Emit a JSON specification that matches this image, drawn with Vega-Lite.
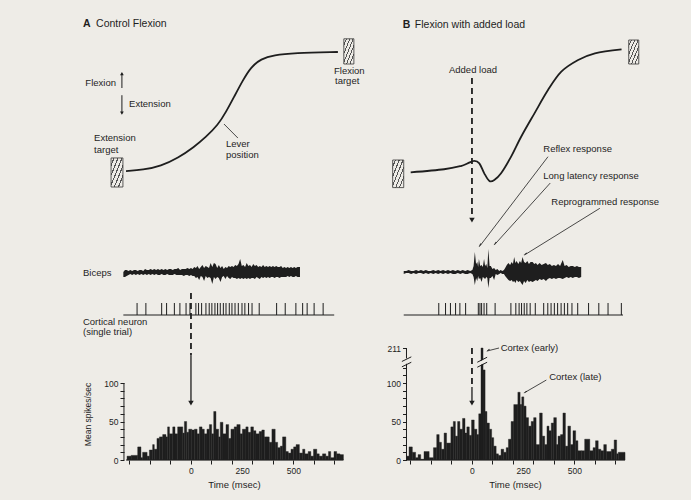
{
"$schema": "https://vega.github.io/schema/vega-lite/v6.json",
"background": "#eeece7",
"padding": {"left": 82, "top": 14, "right": 40, "bottom": 14},
"config": {"view": {"stroke": null}, "font": "Liberation Sans", "text": {"font": "Liberation Sans", "color": "#1e1e1e", "fontSize": 10}, "axis": {"labelFont": "Liberation Sans", "titleFont": "Liberation Sans", "grid": false}},
"data": {"values": [{}]},
"datasets": {
"leverA": [{"t":-317,"v":0.8},{"t":-234,"v":1.7},{"t":-146,"v":5},{"t":-63,"v":11.7},{"t":15,"v":20.8},{"t":73,"v":29.2},{"t":132,"v":39.2},{"t":171,"v":50},{"t":210,"v":62.5},{"t":254,"v":76.7},{"t":293,"v":87.5},{"t":341,"v":94.2},{"t":405,"v":97.5},{"t":502,"v":99.2},{"t":717,"v":100}],
"leverB": [{"t":-299,"v":-0.3},{"t":-136,"v":2.3},{"t":-54,"v":5},{"t":-21,"v":7.2},{"t":11,"v":9.2},{"t":36,"v":7.2},{"t":60,"v":-1.1},{"t":85,"v":-7.5},{"t":109,"v":-6.7},{"t":142,"v":-1.1},{"t":191,"v":12.8},{"t":240,"v":29.4},{"t":305,"v":48.9},{"t":371,"v":68.3},{"t":436,"v":83.6},{"t":518,"v":93.3},{"t":600,"v":98.9},{"t":730,"v":102.2}],
"emgA": [{"t":-330,"hi":0,"lo":-5},{"t":-322,"hi":2,"lo":-5},{"t":-314,"hi":2,"lo":-4},{"t":-305,"hi":1,"lo":-3},{"t":-296,"hi":2,"lo":-2},{"t":-287,"hi":1,"lo":-3},{"t":-278,"hi":2,"lo":-2},{"t":-269,"hi":2,"lo":-3},{"t":-260,"hi":1,"lo":-2},{"t":-251,"hi":2,"lo":-3},{"t":-242,"hi":2,"lo":-2},{"t":-233,"hi":1,"lo":-3},{"t":-224,"hi":3,"lo":-2},{"t":-215,"hi":2,"lo":-3},{"t":-206,"hi":2,"lo":-2},{"t":-197,"hi":3,"lo":-3},{"t":-188,"hi":2,"lo":-2},{"t":-179,"hi":3,"lo":-3},{"t":-170,"hi":2,"lo":-2},{"t":-161,"hi":3,"lo":-3},{"t":-152,"hi":2,"lo":-3},{"t":-143,"hi":3,"lo":-2},{"t":-134,"hi":2,"lo":-3},{"t":-125,"hi":3,"lo":-3},{"t":-116,"hi":2,"lo":-2},{"t":-107,"hi":3,"lo":-3},{"t":-98,"hi":3,"lo":-3},{"t":-89,"hi":2,"lo":-3},{"t":-80,"hi":3,"lo":-2},{"t":-71,"hi":3,"lo":-3},{"t":-62,"hi":4,"lo":-3},{"t":-53,"hi":2,"lo":-3},{"t":-44,"hi":3,"lo":-3},{"t":-35,"hi":3,"lo":-4},{"t":-26,"hi":3,"lo":-3},{"t":-17,"hi":4,"lo":-3},{"t":-8,"hi":3,"lo":-4},{"t":0,"hi":4,"lo":-3},{"t":8,"hi":3,"lo":-4},{"t":16,"hi":5,"lo":-4},{"t":24,"hi":4,"lo":-6},{"t":32,"hi":6,"lo":-5},{"t":40,"hi":3,"lo":-8},{"t":48,"hi":5,"lo":-4},{"t":56,"hi":7,"lo":-5},{"t":64,"hi":4,"lo":-9},{"t":72,"hi":6,"lo":-4},{"t":80,"hi":5,"lo":-6},{"t":88,"hi":4,"lo":-5},{"t":96,"hi":9,"lo":-6},{"t":104,"hi":5,"lo":-12},{"t":112,"hi":9,"lo":-5},{"t":120,"hi":8,"lo":-7},{"t":128,"hi":4,"lo":-5},{"t":136,"hi":7,"lo":-6},{"t":144,"hi":4,"lo":-10},{"t":152,"hi":6,"lo":-5},{"t":160,"hi":3,"lo":-4},{"t":168,"hi":5,"lo":-7},{"t":176,"hi":4,"lo":-4},{"t":184,"hi":6,"lo":-6},{"t":192,"hi":5,"lo":-7},{"t":200,"hi":6,"lo":-5},{"t":208,"hi":5,"lo":-6},{"t":216,"hi":7,"lo":-6},{"t":224,"hi":6,"lo":-7},{"t":232,"hi":8,"lo":-6},{"t":240,"hi":13,"lo":-7},{"t":248,"hi":6,"lo":-6},{"t":256,"hi":7,"lo":-7},{"t":264,"hi":5,"lo":-6},{"t":272,"hi":9,"lo":-7},{"t":280,"hi":6,"lo":-6},{"t":288,"hi":7,"lo":-7},{"t":296,"hi":5,"lo":-6},{"t":304,"hi":8,"lo":-6},{"t":312,"hi":6,"lo":-7},{"t":320,"hi":7,"lo":-5},{"t":328,"hi":5,"lo":-6},{"t":336,"hi":6,"lo":-7},{"t":344,"hi":5,"lo":-5},{"t":352,"hi":7,"lo":-6},{"t":360,"hi":5,"lo":-5},{"t":368,"hi":6,"lo":-6},{"t":376,"hi":5,"lo":-5},{"t":384,"hi":6,"lo":-6},{"t":392,"hi":5,"lo":-5},{"t":400,"hi":6,"lo":-5},{"t":408,"hi":5,"lo":-6},{"t":416,"hi":6,"lo":-5},{"t":424,"hi":5,"lo":-5},{"t":432,"hi":5,"lo":-6},{"t":440,"hi":6,"lo":-5},{"t":448,"hi":4,"lo":-5},{"t":456,"hi":5,"lo":-5},{"t":464,"hi":4,"lo":-5},{"t":472,"hi":5,"lo":-4},{"t":480,"hi":4,"lo":-5},{"t":488,"hi":5,"lo":-4},{"t":496,"hi":4,"lo":-5},{"t":504,"hi":5,"lo":-5},{"t":512,"hi":4,"lo":-4},{"t":520,"hi":5,"lo":-5},{"t":532,"hi":5,"lo":-5}],
"emgB": [{"t":-333,"hi":1,"lo":-2},{"t":-321,"hi":1,"lo":-1},{"t":-309,"hi":2,"lo":-1},{"t":-297,"hi":1,"lo":-2},{"t":-285,"hi":1,"lo":-1},{"t":-273,"hi":2,"lo":-2},{"t":-261,"hi":1,"lo":-1},{"t":-249,"hi":2,"lo":-1},{"t":-237,"hi":1,"lo":-2},{"t":-225,"hi":2,"lo":-1},{"t":-213,"hi":1,"lo":-2},{"t":-201,"hi":1,"lo":-1},{"t":-189,"hi":2,"lo":-2},{"t":-177,"hi":1,"lo":-1},{"t":-165,"hi":2,"lo":-2},{"t":-153,"hi":1,"lo":-1},{"t":-141,"hi":2,"lo":-2},{"t":-129,"hi":1,"lo":-1},{"t":-117,"hi":2,"lo":-2},{"t":-105,"hi":1,"lo":-1},{"t":-93,"hi":2,"lo":-2},{"t":-81,"hi":1,"lo":-2},{"t":-69,"hi":2,"lo":-1},{"t":-57,"hi":1,"lo":-2},{"t":-45,"hi":2,"lo":-1},{"t":-33,"hi":1,"lo":-2},{"t":-21,"hi":2,"lo":-2},{"t":-9,"hi":1,"lo":-1},{"t":2,"hi":2,"lo":-2},{"t":8,"hi":6,"lo":-5},{"t":14,"hi":20,"lo":-13},{"t":20,"hi":8,"lo":-6},{"t":26,"hi":10,"lo":-9},{"t":30,"hi":5,"lo":-4},{"t":34,"hi":13,"lo":-7},{"t":40,"hi":6,"lo":-6},{"t":47,"hi":7,"lo":-10},{"t":53,"hi":5,"lo":-5},{"t":59,"hi":13,"lo":-6},{"t":64,"hi":6,"lo":-7},{"t":70,"hi":8,"lo":-5},{"t":75,"hi":4,"lo":-6},{"t":80,"hi":23,"lo":-16},{"t":86,"hi":6,"lo":-6},{"t":92,"hi":6,"lo":-6},{"t":100,"hi":3,"lo":-4},{"t":108,"hi":4,"lo":-8},{"t":116,"hi":2,"lo":-2},{"t":124,"hi":3,"lo":-3},{"t":133,"hi":1,"lo":-2},{"t":140,"hi":2,"lo":-1},{"t":148,"hi":1,"lo":-2},{"t":156,"hi":2,"lo":-2},{"t":162,"hi":4,"lo":-4},{"t":170,"hi":7,"lo":-6},{"t":178,"hi":9,"lo":-8},{"t":186,"hi":7,"lo":-9},{"t":194,"hi":10,"lo":-8},{"t":200,"hi":8,"lo":-10},{"t":206,"hi":15,"lo":-9},{"t":212,"hi":9,"lo":-11},{"t":218,"hi":11,"lo":-8},{"t":226,"hi":8,"lo":-10},{"t":234,"hi":11,"lo":-9},{"t":240,"hi":9,"lo":-11},{"t":247,"hi":15,"lo":-13},{"t":254,"hi":10,"lo":-9},{"t":262,"hi":9,"lo":-11},{"t":270,"hi":11,"lo":-8},{"t":278,"hi":8,"lo":-10},{"t":286,"hi":10,"lo":-9},{"t":296,"hi":10,"lo":-10},{"t":304,"hi":8,"lo":-9},{"t":312,"hi":9,"lo":-8},{"t":320,"hi":7,"lo":-9},{"t":330,"hi":9,"lo":-7},{"t":340,"hi":7,"lo":-8},{"t":350,"hi":8,"lo":-7},{"t":361,"hi":9,"lo":-9},{"t":370,"hi":7,"lo":-7},{"t":380,"hi":8,"lo":-6},{"t":390,"hi":6,"lo":-7},{"t":400,"hi":7,"lo":-6},{"t":410,"hi":6,"lo":-7},{"t":420,"hi":8,"lo":-6},{"t":430,"hi":6,"lo":-6},{"t":443,"hi":12,"lo":-7},{"t":452,"hi":6,"lo":-6},{"t":462,"hi":7,"lo":-5},{"t":472,"hi":5,"lo":-6},{"t":482,"hi":6,"lo":-5},{"t":492,"hi":6,"lo":-6},{"t":502,"hi":5,"lo":-5},{"t":512,"hi":6,"lo":-5},{"t":522,"hi":5,"lo":-6},{"t":533,"hi":5,"lo":-5}],
"rasterA": [{"t":-263},{"t":-220},{"t":-143},{"t":-119},{"t":-81},{"t":-54},{"t":-24},{"t":-5},{"t":24},{"t":37},{"t":52},{"t":73},{"t":89},{"t":102},{"t":117},{"t":130},{"t":143},{"t":158},{"t":171},{"t":187},{"t":200},{"t":215},{"t":231},{"t":249},{"t":263},{"t":281},{"t":298},{"t":333},{"t":418},{"t":460},{"t":512},{"t":545},{"t":567},{"t":601},{"t":645}],
"rasterB": [{"t":-162},{"t":-129},{"t":-105},{"t":-80},{"t":-59},{"t":-31},{"t":31},{"t":39},{"t":47},{"t":59},{"t":72},{"t":113},{"t":190},{"t":214},{"t":230},{"t":242},{"t":255},{"t":268},{"t":284},{"t":309},{"t":350},{"t":370},{"t":386},{"t":402},{"t":418},{"t":435},{"t":451},{"t":467},{"t":488},{"t":516},{"t":569},{"t":619},{"t":664},{"t":729}],
"histA": [{"t0":-312,"t1":-292,"v":5},{"t0":-292,"t1":-260,"v":6},{"t0":-260,"t1":-244,"v":17},{"t0":-244,"t1":-236,"v":3},{"t0":-236,"t1":-214,"v":10},{"t0":-214,"t1":-203,"v":5},{"t0":-203,"t1":-187,"v":13},{"t0":-187,"t1":-179,"v":20},{"t0":-179,"t1":-166,"v":14},{"t0":-166,"t1":-154,"v":28},{"t0":-154,"t1":-138,"v":30},{"t0":-138,"t1":-122,"v":33},{"t0":-122,"t1":-114,"v":30},{"t0":-114,"t1":-105,"v":43},{"t0":-105,"t1":-89,"v":34},{"t0":-89,"t1":-78,"v":43},{"t0":-78,"t1":-65,"v":34},{"t0":-65,"t1":-40,"v":43},{"t0":-40,"t1":-32,"v":35},{"t0":-32,"t1":-21,"v":50},{"t0":-21,"t1":-11,"v":36},{"t0":-11,"t1":4,"v":40},{"t0":4,"t1":17,"v":39},{"t0":17,"t1":30,"v":40},{"t0":30,"t1":41,"v":34},{"t0":41,"t1":54,"v":43},{"t0":54,"t1":65,"v":40},{"t0":65,"t1":78,"v":34},{"t0":78,"t1":90,"v":40},{"t0":90,"t1":101,"v":46},{"t0":101,"t1":111,"v":34},{"t0":111,"t1":122,"v":63},{"t0":122,"t1":135,"v":40},{"t0":135,"t1":143,"v":30},{"t0":143,"t1":156,"v":49},{"t0":156,"t1":171,"v":34},{"t0":171,"t1":184,"v":46},{"t0":184,"t1":195,"v":28},{"t0":195,"t1":211,"v":40},{"t0":211,"t1":224,"v":43},{"t0":224,"t1":240,"v":46},{"t0":240,"t1":251,"v":34},{"t0":251,"t1":268,"v":40},{"t0":268,"t1":279,"v":43},{"t0":279,"t1":292,"v":36},{"t0":292,"t1":305,"v":43},{"t0":305,"t1":317,"v":38},{"t0":317,"t1":333,"v":34},{"t0":333,"t1":346,"v":37},{"t0":346,"t1":358,"v":39},{"t0":358,"t1":371,"v":30},{"t0":371,"t1":382,"v":30},{"t0":382,"t1":395,"v":23},{"t0":395,"t1":411,"v":40},{"t0":411,"t1":423,"v":23},{"t0":423,"t1":436,"v":16},{"t0":436,"t1":447,"v":18},{"t0":447,"t1":463,"v":30},{"t0":463,"t1":475,"v":11},{"t0":475,"t1":488,"v":9},{"t0":488,"t1":501,"v":14},{"t0":501,"t1":513,"v":17},{"t0":513,"t1":529,"v":20},{"t0":529,"t1":545,"v":9},{"t0":545,"t1":556,"v":14},{"t0":556,"t1":572,"v":8},{"t0":572,"t1":585,"v":11},{"t0":585,"t1":598,"v":5},{"t0":598,"t1":614,"v":14},{"t0":614,"t1":626,"v":8},{"t0":626,"t1":642,"v":5},{"t0":642,"t1":658,"v":8},{"t0":658,"t1":671,"v":5},{"t0":671,"t1":682,"v":11},{"t0":682,"t1":698,"v":3},{"t0":698,"t1":711,"v":11},{"t0":711,"t1":727,"v":8},{"t0":727,"t1":744,"v":7}],
"histB": [{"t0":-318,"t1":-307,"v":5},{"t0":-307,"t1":-291,"v":17},{"t0":-291,"t1":-275,"v":10},{"t0":-275,"t1":-263,"v":3},{"t0":-263,"t1":-250,"v":7},{"t0":-250,"t1":-234,"v":1},{"t0":-234,"t1":-209,"v":11},{"t0":-209,"t1":-188,"v":3},{"t0":-188,"t1":-172,"v":16},{"t0":-172,"t1":-160,"v":33},{"t0":-160,"t1":-149,"v":23},{"t0":-149,"t1":-136,"v":14},{"t0":-136,"t1":-124,"v":35},{"t0":-124,"t1":-103,"v":22},{"t0":-103,"t1":-91,"v":43},{"t0":-91,"t1":-81,"v":50},{"t0":-81,"t1":-70,"v":31},{"t0":-70,"t1":-59,"v":50},{"t0":-59,"t1":-46,"v":40},{"t0":-46,"t1":-34,"v":54},{"t0":-34,"t1":-25,"v":35},{"t0":-25,"t1":-13,"v":43},{"t0":-13,"t1":-2,"v":32},{"t0":-2,"t1":11,"v":52},{"t0":11,"t1":24,"v":40},{"t0":24,"t1":33,"v":33},{"t0":33,"t1":44,"v":60},{"t0":44,"t1":54,"v":211},{"t0":54,"t1":64,"v":117},{"t0":64,"t1":73,"v":63},{"t0":73,"t1":85,"v":48},{"t0":85,"t1":96,"v":40},{"t0":96,"t1":106,"v":29},{"t0":106,"t1":118,"v":18},{"t0":118,"t1":129,"v":8},{"t0":129,"t1":142,"v":6},{"t0":142,"t1":155,"v":14},{"t0":155,"t1":167,"v":10},{"t0":167,"t1":178,"v":16},{"t0":178,"t1":191,"v":27},{"t0":191,"t1":204,"v":50},{"t0":204,"t1":224,"v":72},{"t0":224,"t1":235,"v":88},{"t0":235,"t1":243,"v":72},{"t0":243,"t1":253,"v":82},{"t0":253,"t1":264,"v":70},{"t0":264,"t1":276,"v":55},{"t0":276,"t1":289,"v":44},{"t0":289,"t1":301,"v":50},{"t0":301,"t1":313,"v":55},{"t0":313,"t1":330,"v":20},{"t0":330,"t1":343,"v":61},{"t0":343,"t1":355,"v":31},{"t0":355,"t1":366,"v":20},{"t0":366,"t1":376,"v":44},{"t0":376,"t1":387,"v":38},{"t0":387,"t1":399,"v":48},{"t0":399,"t1":412,"v":55},{"t0":412,"t1":420,"v":20},{"t0":420,"t1":432,"v":31},{"t0":432,"t1":444,"v":33},{"t0":444,"t1":456,"v":61},{"t0":456,"t1":468,"v":18},{"t0":468,"t1":481,"v":44},{"t0":481,"t1":493,"v":20},{"t0":493,"t1":506,"v":38},{"t0":506,"t1":517,"v":25},{"t0":517,"t1":534,"v":12},{"t0":534,"t1":550,"v":12},{"t0":550,"t1":575,"v":27},{"t0":575,"t1":591,"v":12},{"t0":591,"t1":603,"v":16},{"t0":603,"t1":616,"v":25},{"t0":616,"t1":629,"v":14},{"t0":629,"t1":643,"v":12},{"t0":643,"t1":656,"v":20},{"t0":656,"t1":680,"v":11},{"t0":680,"t1":694,"v":14},{"t0":694,"t1":706,"v":26},{"t0":706,"t1":714,"v":8},{"t0":714,"t1":747,"v":10}]
},
"spacing": 21,
"hconcat": [
{"bounds": "flush", "spacing": 0, "vconcat": [
 {"width": 250, "height": 216, "layer": [
  {"data": {"name": "leverA"}, "mark": {"type": "line", "interpolate": "basis", "color": "#1e1e1e", "strokeWidth": 1.8},
   "encoding": {"x": {"field": "t", "type": "quantitative", "scale": {"domain": [-400, 820], "nice": false, "zero": false}, "axis": null},
                "y": {"field": "v", "type": "quantitative", "scale": {"domain": [-48.33, 131.67], "nice": false, "zero": false}, "axis": null}}},
  {"mark": {"type": "rect", "stroke": "#333", "strokeWidth": 0.8, "fill": {"gradient": "linear", "x1": 0, "y1": 0, "x2": 1, "y2": 1, "stops": [{"offset": 0, "color": "#eeece7"}, {"offset": 0.1, "color": "#eeece7"}, {"offset": 0.1, "color": "#555"}, {"offset": 0.15, "color": "#555"}, {"offset": 0.15, "color": "#eeece7"}, {"offset": 0.27, "color": "#eeece7"}, {"offset": 0.27, "color": "#555"}, {"offset": 0.32, "color": "#555"}, {"offset": 0.32, "color": "#eeece7"}, {"offset": 0.44, "color": "#eeece7"}, {"offset": 0.44, "color": "#555"}, {"offset": 0.49, "color": "#555"}, {"offset": 0.49, "color": "#eeece7"}, {"offset": 0.61, "color": "#eeece7"}, {"offset": 0.61, "color": "#555"}, {"offset": 0.66, "color": "#555"}, {"offset": 0.66, "color": "#eeece7"}, {"offset": 0.78, "color": "#eeece7"}, {"offset": 0.78, "color": "#555"}, {"offset": 0.83, "color": "#555"}, {"offset": 0.83, "color": "#eeece7"}, {"offset": 1, "color": "#eeece7"}]}},
   "encoding": {"x": {"datum": -390, "axis": null}, "x2": {"datum": -332}, "y": {"datum": 11.7, "axis": null}, "y2": {"datum": -12.5}}},
  {"mark": {"type": "rect", "stroke": "#333", "strokeWidth": 0.8, "fill": {"gradient": "linear", "x1": 0, "y1": 0, "x2": 1, "y2": 1, "stops": [{"offset": 0, "color": "#eeece7"}, {"offset": 0.1, "color": "#eeece7"}, {"offset": 0.1, "color": "#555"}, {"offset": 0.15, "color": "#555"}, {"offset": 0.15, "color": "#eeece7"}, {"offset": 0.27, "color": "#eeece7"}, {"offset": 0.27, "color": "#555"}, {"offset": 0.32, "color": "#555"}, {"offset": 0.32, "color": "#eeece7"}, {"offset": 0.44, "color": "#eeece7"}, {"offset": 0.44, "color": "#555"}, {"offset": 0.49, "color": "#555"}, {"offset": 0.49, "color": "#eeece7"}, {"offset": 0.61, "color": "#eeece7"}, {"offset": 0.61, "color": "#555"}, {"offset": 0.66, "color": "#555"}, {"offset": 0.66, "color": "#eeece7"}, {"offset": 0.78, "color": "#eeece7"}, {"offset": 0.78, "color": "#555"}, {"offset": 0.83, "color": "#555"}, {"offset": 0.83, "color": "#eeece7"}, {"offset": 1, "color": "#eeece7"}]}},
   "encoding": {"x": {"datum": 746, "axis": null}, "x2": {"datum": 795}, "y": {"datum": 111, "axis": null}, "y2": {"datum": 90}}},
  {"mark": {"type": "text", "text": "A", "fontWeight": "bold", "fontSize": 10.5, "align": "left", "baseline": "middle"}, "encoding": {"x": {"datum": -527, "axis": null}, "y": {"datum": 123.3, "axis": null}}},
  {"mark": {"type": "text", "text": "Control Flexion", "fontSize": 10.5, "align": "left", "baseline": "middle"}, "encoding": {"x": {"datum": -463, "axis": null}, "y": {"datum": 123.3, "axis": null}}},
  {"mark": {"type": "text", "text": "Flexion", "align": "right", "baseline": "middle", "fontSize": 9.5}, "encoding": {"x": {"datum": -366, "axis": null}, "y": {"datum": 74, "axis": null}}},
  {"mark": {"type": "rule", "color": "#1e1e1e", "strokeWidth": 1}, "encoding": {"x": {"datum": -337, "axis": null}, "y": {"datum": 70, "axis": null}, "y2": {"datum": 82}}},
  {"mark": {"type": "point", "shape": "triangle-up", "filled": true, "size": 14, "color": "#1e1e1e", "opacity": 1}, "encoding": {"x": {"datum": -337, "axis": null}, "y": {"datum": 82, "axis": null}}},
  {"mark": {"type": "text", "text": "Extension", "align": "left", "baseline": "middle", "fontSize": 9.5}, "encoding": {"x": {"datum": -302, "axis": null}, "y": {"datum": 56.7, "axis": null}}},
  {"mark": {"type": "rule", "color": "#1e1e1e", "strokeWidth": 1}, "encoding": {"x": {"datum": -337, "axis": null}, "y": {"datum": 64, "axis": null}, "y2": {"datum": 49}}},
  {"mark": {"type": "point", "shape": "triangle-down", "filled": true, "size": 14, "color": "#1e1e1e", "opacity": 1}, "encoding": {"x": {"datum": -337, "axis": null}, "y": {"datum": 49, "axis": null}}},
  {"mark": {"type": "text", "text": "Extension", "align": "left", "baseline": "middle", "fontSize": 9.5}, "encoding": {"x": {"datum": -473, "axis": null}, "y": {"datum": 28.3, "axis": null}}},
  {"mark": {"type": "text", "text": "target", "align": "left", "baseline": "middle", "fontSize": 9.5}, "encoding": {"x": {"datum": -473, "axis": null}, "y": {"datum": 18.3, "axis": null}}},
  {"mark": {"type": "text", "text": "Lever", "align": "left", "baseline": "middle", "fontSize": 9.5}, "encoding": {"x": {"datum": 171, "axis": null}, "y": {"datum": 23.3, "axis": null}}},
  {"mark": {"type": "text", "text": "position", "align": "left", "baseline": "middle", "fontSize": 9.5}, "encoding": {"x": {"datum": 171, "axis": null}, "y": {"datum": 14.2, "axis": null}}},
  {"mark": {"type": "rule", "color": "#1e1e1e", "strokeWidth": 0.8}, "encoding": {"x": {"datum": 229, "axis": null}, "y": {"datum": 28.3, "axis": null}, "x2": {"datum": 161}, "y2": {"datum": 40}}},
  {"mark": {"type": "text", "text": "Flexion", "align": "left", "baseline": "middle", "fontSize": 9.5}, "encoding": {"x": {"datum": 698, "axis": null}, "y": {"datum": 84.4, "axis": null}}},
  {"mark": {"type": "text", "text": "target", "align": "left", "baseline": "middle", "fontSize": 9.5}, "encoding": {"x": {"datum": 703, "axis": null}, "y": {"datum": 75.8, "axis": null}}}
 ]},
 {"width": 250, "height": 68, "layer": [
  {"data": {"name": "emgA"}, "mark": {"type": "area", "color": "#1e1e1e", "opacity": 1},
   "encoding": {"x": {"field": "t", "type": "quantitative", "scale": {"domain": [-400, 820], "nice": false, "zero": false}, "axis": null},
                "y": {"field": "hi", "type": "quantitative", "scale": {"domain": [-26, 42], "nice": false, "zero": false}, "axis": null}, "y2": {"field": "lo"}}},
  {"mark": {"type": "text", "text": "Biceps", "align": "left", "baseline": "middle", "fontSize": 9.5}, "encoding": {"x": {"datum": -527, "axis": null}, "y": {"datum": -1, "axis": null}}}
 ]},
 {"width": 250, "height": 50, "layer": [
  {"data": {"name": "rasterA"}, "mark": {"type": "rule", "color": "#1e1e1e", "strokeWidth": 1},
   "encoding": {"x": {"field": "t", "type": "quantitative", "scale": {"domain": [-400, 820], "nice": false, "zero": false}, "axis": null},
                "y": {"datum": 0, "scale": {"domain": [-33, 17], "nice": false, "zero": false}, "axis": null}, "y2": {"datum": 12}}},
  {"mark": {"type": "rule", "color": "#1e1e1e", "strokeWidth": 1}, "encoding": {"x": {"datum": -330, "axis": null}, "x2": {"datum": 699}, "y": {"datum": 0, "axis": null}}},
  {"mark": {"type": "text", "text": "Cortical neuron", "align": "left", "baseline": "middle", "fontSize": 9.5}, "encoding": {"x": {"datum": -527, "axis": null}, "y": {"datum": -6.5, "axis": null}}},
  {"mark": {"type": "text", "text": "(single trial)", "align": "left", "baseline": "middle", "fontSize": 9.5}, "encoding": {"x": {"datum": -527, "axis": null}, "y": {"datum": -16.5, "axis": null}}}
 ]},
 {"width": 250, "height": 112, "resolve": {"axis": {"x": "independent", "y": "independent"}}, "layer": [
  {"data": {"name": "histA"}, "mark": {"type": "rect", "color": "#1e1e1e", "stroke": "#1e1e1e", "strokeWidth": 0.4},
   "encoding": {"x": {"field": "t0", "type": "quantitative", "scale": {"domain": [-400, 820], "nice": false, "zero": false},
                      "axis": {"values": [-300, -200, -100, 0, 100, 200, 250, 300, 400, 500, 600, 700], "labelExpr": "(datum.value==0||datum.value==250||datum.value==500)?datum.label:''", "domain": false, "tickSize": 4, "tickColor": "#1e1e1e", "tickOpacity": {"condition": {"test": "datum.value==250", "value": 0}, "value": 1}, "labelFontSize": 8.5, "labelColor": "#1e1e1e", "labelPadding": 2, "labelOverlap": false, "labelFlush": false, "title": "Time (msec)", "titleFontSize": 9.5, "titleFontWeight": "normal", "titleColor": "#1e1e1e", "titlePadding": 5}},
                "x2": {"field": "t1"},
                "y": {"field": "v", "type": "quantitative", "scale": {"domain": [0, 145.5], "nice": false, "zero": false},
                      "axis": {"values": [0, 10, 20, 30, 40, 50, 60, 70, 80, 90, 100], "labelExpr": "datum.value%50==0?datum.label:''", "domain": false, "tickSize": 4, "tickColor": "#1e1e1e", "offset": -15, "labelFontSize": 8.5, "labelColor": "#1e1e1e", "labelPadding": 2, "labelOverlap": false, "title": "Mean spikes/sec", "titleFontSize": 8.5, "titleFontWeight": "normal", "titleColor": "#1e1e1e", "titleX": -37, "titleY": 66, "titleAngle": 270, "titleAlign": "center", "titleBaseline": "middle"}},
                "y2": {"datum": 0}}},
  {"mark": {"type": "rule", "color": "#1e1e1e", "strokeWidth": 1}, "encoding": {"x": {"datum": -327, "axis": null}, "y": {"datum": 0, "axis": null}, "y2": {"datum": 100}}},
  {"mark": {"type": "rule", "color": "#1e1e1e", "strokeWidth": 1}, "encoding": {"x": {"datum": -317, "axis": null}, "x2": {"datum": 744}, "y": {"datum": 0, "axis": null}}},
  {"mark": {"type": "rule", "color": "#1e1e1e", "strokeWidth": 1.8, "strokeDash": [6, 4]}, "encoding": {"x": {"datum": 0, "axis": null}, "y": {"datum": 216.9, "axis": null}, "y2": {"datum": 136}}},
  {"mark": {"type": "rule", "color": "#1e1e1e", "strokeWidth": 1.3}, "encoding": {"x": {"datum": 0, "axis": null}, "y": {"datum": 136, "axis": null}, "y2": {"datum": 76}}},
  {"mark": {"type": "point", "shape": "triangle-down", "filled": true, "size": 30, "color": "#1e1e1e", "opacity": 1}, "encoding": {"x": {"datum": 0, "axis": null}, "y": {"datum": 74, "axis": null}}}
 ]}
]},
{"bounds": "flush", "spacing": 0, "vconcat": [
 {"width": 250, "height": 216, "layer": [
  {"data": {"name": "leverB"}, "mark": {"type": "line", "interpolate": "cardinal", "color": "#1e1e1e", "strokeWidth": 1.8},
   "encoding": {"x": {"field": "t", "type": "quantitative", "scale": {"domain": [-400, 820], "nice": false, "zero": false}, "axis": null},
                "y": {"field": "v", "type": "quantitative", "scale": {"domain": [-48.33, 131.67], "nice": false, "zero": false}, "axis": null}}},
  {"mark": {"type": "rect", "stroke": "#333", "strokeWidth": 0.8, "fill": {"gradient": "linear", "x1": 0, "y1": 0, "x2": 1, "y2": 1, "stops": [{"offset": 0, "color": "#eeece7"}, {"offset": 0.1, "color": "#eeece7"}, {"offset": 0.1, "color": "#555"}, {"offset": 0.15, "color": "#555"}, {"offset": 0.15, "color": "#eeece7"}, {"offset": 0.27, "color": "#eeece7"}, {"offset": 0.27, "color": "#555"}, {"offset": 0.32, "color": "#555"}, {"offset": 0.32, "color": "#eeece7"}, {"offset": 0.44, "color": "#eeece7"}, {"offset": 0.44, "color": "#555"}, {"offset": 0.49, "color": "#555"}, {"offset": 0.49, "color": "#eeece7"}, {"offset": 0.61, "color": "#eeece7"}, {"offset": 0.61, "color": "#555"}, {"offset": 0.66, "color": "#555"}, {"offset": 0.66, "color": "#eeece7"}, {"offset": 0.78, "color": "#eeece7"}, {"offset": 0.78, "color": "#555"}, {"offset": 0.83, "color": "#555"}, {"offset": 0.83, "color": "#eeece7"}, {"offset": 1, "color": "#eeece7"}]}},
   "encoding": {"x": {"datum": -387, "axis": null}, "x2": {"datum": -333}, "y": {"datum": 10, "axis": null}, "y2": {"datum": -13}}},
  {"mark": {"type": "rect", "stroke": "#333", "strokeWidth": 0.8, "fill": {"gradient": "linear", "x1": 0, "y1": 0, "x2": 1, "y2": 1, "stops": [{"offset": 0, "color": "#eeece7"}, {"offset": 0.1, "color": "#eeece7"}, {"offset": 0.1, "color": "#555"}, {"offset": 0.15, "color": "#555"}, {"offset": 0.15, "color": "#eeece7"}, {"offset": 0.27, "color": "#eeece7"}, {"offset": 0.27, "color": "#555"}, {"offset": 0.32, "color": "#555"}, {"offset": 0.32, "color": "#eeece7"}, {"offset": 0.44, "color": "#eeece7"}, {"offset": 0.44, "color": "#555"}, {"offset": 0.49, "color": "#555"}, {"offset": 0.49, "color": "#eeece7"}, {"offset": 0.61, "color": "#eeece7"}, {"offset": 0.61, "color": "#555"}, {"offset": 0.66, "color": "#555"}, {"offset": 0.66, "color": "#eeece7"}, {"offset": 0.78, "color": "#eeece7"}, {"offset": 0.78, "color": "#555"}, {"offset": 0.83, "color": "#555"}, {"offset": 0.83, "color": "#eeece7"}, {"offset": 1, "color": "#eeece7"}]}},
   "encoding": {"x": {"datum": 765, "axis": null}, "x2": {"datum": 814}, "y": {"datum": 110, "axis": null}, "y2": {"datum": 90}}},
  {"mark": {"type": "text", "text": "B", "fontWeight": "bold", "fontSize": 10.5, "align": "left", "baseline": "middle"}, "encoding": {"x": {"datum": -338, "axis": null}, "y": {"datum": 122.5, "axis": null}}},
  {"mark": {"type": "text", "text": "Flexion with added load", "fontSize": 10.5, "align": "left", "baseline": "middle"}, "encoding": {"x": {"datum": -279, "axis": null}, "y": {"datum": 122.5, "axis": null}}},
  {"mark": {"type": "text", "text": "Added load", "align": "center", "baseline": "middle", "fontSize": 9.5}, "encoding": {"x": {"datum": 5, "axis": null}, "y": {"datum": 85, "axis": null}}},
  {"mark": {"type": "rule", "color": "#1e1e1e", "strokeWidth": 1.8, "strokeDash": [6, 4]}, "encoding": {"x": {"datum": 0, "axis": null}, "y": {"datum": 78.3, "axis": null}, "y2": {"datum": -38}}},
  {"mark": {"type": "point", "shape": "triangle-down", "filled": true, "size": 30, "color": "#1e1e1e", "opacity": 1}, "encoding": {"x": {"datum": 0, "axis": null}, "y": {"datum": -40, "axis": null}}},
  {"mark": {"type": "text", "text": "Reflex response", "align": "left", "baseline": "middle", "fontSize": 9.5}, "encoding": {"x": {"datum": 348, "axis": null}, "y": {"datum": 19.2, "axis": null}}},
  {"mark": {"type": "text", "text": "Long latency response", "align": "left", "baseline": "middle", "fontSize": 9.5}, "encoding": {"x": {"datum": 348, "axis": null}, "y": {"datum": -3.3, "axis": null}}},
  {"mark": {"type": "text", "text": "Reprogrammed response", "align": "left", "baseline": "middle", "fontSize": 9.5}, "encoding": {"x": {"datum": 387, "axis": null}, "y": {"datum": -25, "axis": null}}},
  {"mark": {"type": "rule", "color": "#1e1e1e", "strokeWidth": 0.8}, "encoding": {"x": {"datum": 371, "axis": null}, "y": {"datum": 12.75, "axis": null}, "x2": {"datum": 36}, "y2": {"datum": -62.25}}},
  {"mark": {"type": "rule", "color": "#1e1e1e", "strokeWidth": 0.8}, "encoding": {"x": {"datum": 382, "axis": null}, "y": {"datum": -9.2, "axis": null}, "x2": {"datum": 109}, "y2": {"datum": -60.8}}},
  {"mark": {"type": "rule", "color": "#1e1e1e", "strokeWidth": 0.8}, "encoding": {"x": {"datum": 624, "axis": null}, "y": {"datum": -30.25, "axis": null}, "x2": {"datum": 256}, "y2": {"datum": -69.2}}},
  {"mark": {"type": "point", "shape": "wedge", "filled": true, "size": 22, "angle": 217, "color": "#1e1e1e", "opacity": 1}, "encoding": {"x": {"datum": 40, "axis": null}, "y": {"datum": -60.5, "axis": null}}},
  {"mark": {"type": "point", "shape": "wedge", "filled": true, "size": 22, "angle": 222, "color": "#1e1e1e", "opacity": 1}, "encoding": {"x": {"datum": 114, "axis": null}, "y": {"datum": -59.3, "axis": null}}},
  {"mark": {"type": "point", "shape": "wedge", "filled": true, "size": 22, "angle": 238, "color": "#1e1e1e", "opacity": 1}, "encoding": {"x": {"datum": 262, "axis": null}, "y": {"datum": -68.1, "axis": null}}}
 ]},
 {"width": 250, "height": 68, "layer": [
  {"data": {"name": "emgB"}, "mark": {"type": "area", "color": "#1e1e1e", "opacity": 1},
   "encoding": {"x": {"field": "t", "type": "quantitative", "scale": {"domain": [-400, 820], "nice": false, "zero": false}, "axis": null},
                "y": {"field": "hi", "type": "quantitative", "scale": {"domain": [-26, 42], "nice": false, "zero": false}, "axis": null}, "y2": {"field": "lo"}}}
 ]},
 {"width": 250, "height": 50, "layer": [
  {"data": {"name": "rasterB"}, "mark": {"type": "rule", "color": "#1e1e1e", "strokeWidth": 1},
   "encoding": {"x": {"field": "t", "type": "quantitative", "scale": {"domain": [-400, 820], "nice": false, "zero": false}, "axis": null},
                "y": {"datum": 0, "scale": {"domain": [-33, 17], "nice": false, "zero": false}, "axis": null}, "y2": {"datum": 12}}},
  {"mark": {"type": "rule", "color": "#1e1e1e", "strokeWidth": 1}, "encoding": {"x": {"datum": -333, "axis": null}, "x2": {"datum": 737}, "y": {"datum": 0, "axis": null}}}
 ]},
 {"width": 250, "height": 112, "resolve": {"axis": {"x": "independent", "y": "independent"}}, "layer": [
  {"data": {"name": "histB"}, "mark": {"type": "rect", "color": "#1e1e1e", "stroke": "#1e1e1e", "strokeWidth": 0.4},
   "encoding": {"x": {"field": "t0", "type": "quantitative", "scale": {"domain": [-400, 820], "nice": false, "zero": false},
                      "axis": {"values": [-300, -200, -100, 0, 100, 200, 250, 300, 400, 500, 600, 700], "labelExpr": "(datum.value==0||datum.value==250||datum.value==500)?datum.label:''", "domain": false, "tickSize": 4, "tickColor": "#1e1e1e", "tickOpacity": {"condition": {"test": "datum.value==250", "value": 0}, "value": 1}, "labelFontSize": 8.5, "labelColor": "#1e1e1e", "labelPadding": 2, "labelOverlap": false, "labelFlush": false, "title": "Time (msec)", "titleFontSize": 9.5, "titleFontWeight": "normal", "titleColor": "#1e1e1e", "titlePadding": 5}},
                "x2": {"field": "t1"},
                "y": {"field": "v", "type": "quantitative", "scale": {"domain": [0, 145.5], "nice": false, "zero": false, "clamp": true},
                      "axis": {"values": [0, 10, 20, 30, 40, 50, 60, 70, 80, 90, 100, 110, 120, 145.5], "labelExpr": "datum.value>140?'211':(datum.value%50==0?datum.label:'')", "domain": false, "tickSize": 4, "tickColor": "#1e1e1e", "offset": -16.5, "labelFontSize": 8.5, "labelColor": "#1e1e1e", "labelPadding": 2, "labelOverlap": false, "title": null}},
                "y2": {"datum": 0}}},
  {"mark": {"type": "rule", "color": "#1e1e1e", "strokeWidth": 1}, "encoding": {"x": {"datum": -319.5, "axis": null}, "y": {"datum": 0, "axis": null}, "y2": {"datum": 125}}},
  {"mark": {"type": "rule", "color": "#1e1e1e", "strokeWidth": 1}, "encoding": {"x": {"datum": -319.5, "axis": null}, "y": {"datum": 132, "axis": null}, "y2": {"datum": 145.5}}},
  {"mark": {"type": "rule", "color": "#1e1e1e", "strokeWidth": 1}, "encoding": {"x": {"datum": -342, "axis": null}, "y": {"datum": 121, "axis": null}, "x2": {"datum": -296}, "y2": {"datum": 127}}},
  {"mark": {"type": "rule", "color": "#1e1e1e", "strokeWidth": 1}, "encoding": {"x": {"datum": -342, "axis": null}, "y": {"datum": 128, "axis": null}, "x2": {"datum": -296}, "y2": {"datum": 134}}},
  {"mark": {"type": "rule", "color": "#eeece7", "strokeWidth": 3.5}, "encoding": {"x": {"datum": 28, "axis": null}, "y": {"datum": 124, "axis": null}, "x2": {"datum": 72}, "y2": {"datum": 130}}},
  {"mark": {"type": "rule", "color": "#1e1e1e", "strokeWidth": 1}, "encoding": {"x": {"datum": 26, "axis": null}, "y": {"datum": 120.5, "axis": null}, "x2": {"datum": 74}, "y2": {"datum": 127}}},
  {"mark": {"type": "rule", "color": "#1e1e1e", "strokeWidth": 1}, "encoding": {"x": {"datum": 26, "axis": null}, "y": {"datum": 127, "axis": null}, "x2": {"datum": 74}, "y2": {"datum": 133.5}}},
  {"mark": {"type": "rule", "color": "#1e1e1e", "strokeWidth": 1}, "encoding": {"x": {"datum": -318, "axis": null}, "x2": {"datum": 747}, "y": {"datum": 0, "axis": null}}},
  {"mark": {"type": "rule", "color": "#1e1e1e", "strokeWidth": 1.8, "strokeDash": [6, 4]}, "encoding": {"x": {"datum": 0, "axis": null}, "y": {"datum": 216.9, "axis": null}, "y2": {"datum": 94.8}}},
  {"mark": {"type": "rule", "color": "#1e1e1e", "strokeWidth": 1.3}, "encoding": {"x": {"datum": 0, "axis": null}, "y": {"datum": 94.8, "axis": null}, "y2": {"datum": 76}}},
  {"mark": {"type": "point", "shape": "triangle-down", "filled": true, "size": 30, "color": "#1e1e1e", "opacity": 1}, "encoding": {"x": {"datum": 0, "axis": null}, "y": {"datum": 74, "axis": null}}},
  {"mark": {"type": "text", "text": "Cortex (early)", "align": "left", "baseline": "middle", "fontSize": 9.5}, "encoding": {"x": {"datum": 140, "axis": null}, "y": {"datum": 156, "axis": null}}},
  {"mark": {"type": "rule", "color": "#1e1e1e", "strokeWidth": 0.8}, "encoding": {"x": {"datum": 132, "axis": null}, "y": {"datum": 153.3, "axis": null}, "x2": {"datum": 74}, "y2": {"datum": 141.6}}},
  {"mark": {"type": "point", "shape": "wedge", "filled": true, "size": 22, "angle": 233, "color": "#1e1e1e", "opacity": 1}, "encoding": {"x": {"datum": 80, "axis": null}, "y": {"datum": 142.8, "axis": null}}},
  {"mark": {"type": "text", "text": "Cortex (late)", "align": "left", "baseline": "middle", "fontSize": 9.5}, "encoding": {"x": {"datum": 377, "axis": null}, "y": {"datum": 108, "axis": null}}},
  {"mark": {"type": "rule", "color": "#1e1e1e", "strokeWidth": 0.8}, "encoding": {"x": {"datum": 363, "axis": null}, "y": {"datum": 103.9, "axis": null}, "x2": {"datum": 256}, "y2": {"datum": 87.4}}},
  {"mark": {"type": "point", "shape": "wedge", "filled": true, "size": 22, "angle": 240, "color": "#1e1e1e", "opacity": 1}, "encoding": {"x": {"datum": 262, "axis": null}, "y": {"datum": 88.4, "axis": null}}}
 ]}
]}
]
}
